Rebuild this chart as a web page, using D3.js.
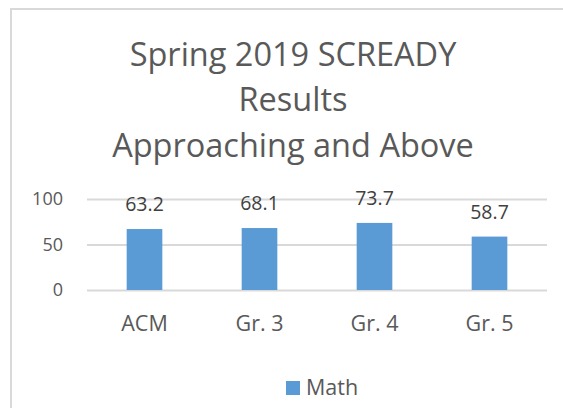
<!DOCTYPE html>
<html>
<head>
<meta charset="utf-8">
<script src="https://cdn.jsdelivr.net/npm/d3@7"></script>
<style>
  body { margin: 0; background: #fff; }
  svg { display: block; font-family: "Open Sans", Lato, sans-serif; }
</style>
</head>
<body>
<div id="chart"></div>
<script>
// Data
const categories = ['ACM', 'Gr. 3', 'Gr. 4', 'Gr. 5'];
// Bar heights as drawn (ACM bar is drawn taller than its label says).
const mathValues = [67.0, 68.1, 73.7, 58.7];
const mathLabels = ['63.2', '68.1', '73.7', '58.7'];
const yTicks = [0, 50, 100];
const titleLines = ['Spring 2019 SCREADY', 'Results', 'Approaching and Above'];
const seriesName = 'Math';

// Layout
const WIDTH = 563;
const HEIGHT = 408;
const FONT = '"Open Sans", Lato, sans-serif';
const TEXT_COLOR = '#595959';
const GRID_COLOR = '#d9d9d9';
const BAR_COLOR = '#5b9bd5';

const svg = d3.select('#chart').append('svg')
    .attr('width', WIDTH)
    .attr('height', HEIGHT);

// Chart area border (right and bottom edges fall outside the picture)
svg.append('rect')
    .attr('x', 11)
    .attr('y', 9)
    .attr('width', 600)
    .attr('height', 450)
    .attr('fill', '#fff')
    .attr('stroke', GRID_COLOR)
    .attr('stroke-width', 2);

// Title
svg.append('g')
  .selectAll('text')
  .data(titleLines)
  .join('text')
    .attr('x', 293)
    .attr('y', function(d, i) { return 65.5 + i * 45.5; })
    .attr('text-anchor', 'middle')
    .attr('fill', TEXT_COLOR)
    .attr('font-size', 32.5)
    .text(function(d) { return d; });

let x = d3.scaleBand()
    .domain(categories)
    .range([87, 547])
    .paddingInner(0.69)
    .paddingOuter(0.345);

let y = d3.scaleLinear()
    .domain([0, 100])
    .range([290, 199]);

// Gridlines + y labels
let yAxis = svg.append('g')
    .attr('transform', 'translate(87,0)')
    .call(d3.axisLeft(y).tickValues(yTicks).tickSize(-460).tickPadding(24));
yAxis.select('.domain').remove();
yAxis.selectAll('.tick line')
    .attr('stroke', GRID_COLOR)
    .attr('stroke-width', 2);
yAxis.selectAll('.tick text')
    .attr('fill', TEXT_COLOR)
    .attr('font-size', 18)
    .attr('font-family', FONT);

// Bars
svg.append('g')
  .selectAll('rect')
  .data(mathValues)
  .join('rect')
    .attr('x', function(d, i) { return x(categories[i]); })
    .attr('y', function(d) { return y(d); })
    .attr('width', x.bandwidth())
    .attr('height', function(d) { return y(0) - y(d); })
    .attr('fill', BAR_COLOR);

// Value labels, ~18px above each bar top
svg.append('g')
  .selectAll('text')
  .data(mathValues)
  .join('text')
    .attr('x', function(d, i) { return x(categories[i]) + x.bandwidth() / 2; })
    .attr('y', function(d) { return y(d) - 18; })
    .attr('text-anchor', 'middle')
    .attr('fill', '#404040')
    .attr('font-size', 19.5)
    .text(function(d, i) { return mathLabels[i]; });

// Category axis labels
let xAxis = svg.append('g')
    .attr('transform', 'translate(0,290)')
    .call(d3.axisBottom(x).tickSize(0).tickPadding(26));
xAxis.select('.domain').remove();
xAxis.selectAll('.tick text')
    .attr('fill', TEXT_COLOR)
    .attr('font-size', 21.5)
    .attr('font-family', FONT);

// Legend
let legend = svg.append('g').attr('transform', 'translate(286,381)');
legend.append('rect')
    .attr('width', 14)
    .attr('height', 14)
    .attr('fill', BAR_COLOR);
legend.append('text')
    .attr('x', 20)
    .attr('y', 14)
    .attr('fill', TEXT_COLOR)
    .attr('font-size', 21.5)
    .text(seriesName);
</script>
</body>
</html>
